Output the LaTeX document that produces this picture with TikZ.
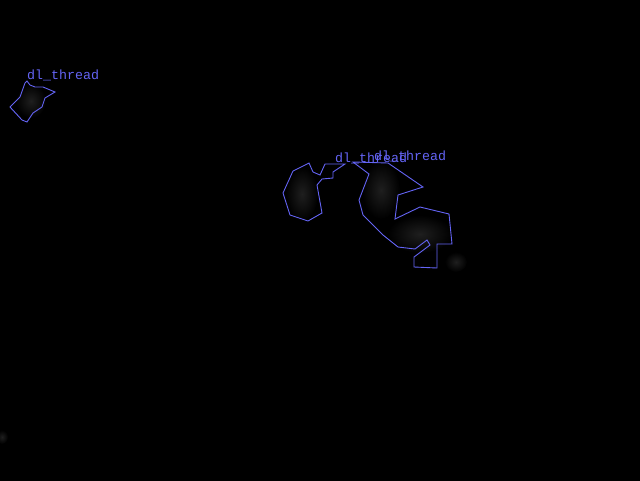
\documentclass[tikz,border=0pt]{standalone}
\usepackage{fontspec}
\usepackage{xcolor}
\usepackage{tikz}
\usetikzlibrary{backgrounds}
\newfontfamily\labelfont{Liberation Mono}
\definecolor{outline}{RGB}{100,100,245}

\begin{document}
\begin{tikzpicture}[x=1pt, y=-1pt, background rectangle/.style={fill=black}, show background rectangle]
\useasboundingbox (0,0) rectangle (640,480);

% soft grey blobs
\begin{scope}[every path/.style={inner color=gray!24!black, outer color=black}]
    \shade (31,101) ellipse (15 and 17);
    \shade (302,194) ellipse (16 and 27);
    \shade (381,190) ellipse (19 and 29);
    \shade (420,234) ellipse (32 and 19);
    \shade (456,262) ellipse (11 and 10);
    \shade (2,437) ellipse (6 and 7);
\end{scope}

% outlines
\begin{scope}[every path/.style={draw=outline, line width=0.9pt, line join=miter}]
    \draw (27,81) -- (30,85) -- (35,87) -- (43,87) -- (55,92) -- (50,95) -- (45,98)
      -- (42,107) -- (33,113) -- (27,122) -- (22,120) -- (10,107) -- (20,97) -- (25,83) -- cycle;
    \draw (309,163) -- (313,172) -- (320,175) -- (325,164) -- (345,164) -- (333,172)
      -- (333,178) -- (322,179) -- (317,185) -- (322,213) -- (308,221) -- (302,219)
      -- (290,215) -- (283,193) -- (293,171) -- cycle;
    \draw (353,162) -- (388,163) -- (423,187) -- (398,195) -- (395,219) -- (420,207)
      -- (449,214) -- (452,244) -- (437,244) -- (437,268) -- (414,267) -- (414,257)
      -- (430,245) -- (427,240) -- (415,249) -- (398,247) -- (383,235) -- (363,215)
      -- (359,200) -- (369,174) -- cycle;
\end{scope}

% labels
\begin{scope}[every node/.style={text=outline, anchor=base west, inner sep=0pt,
              font=\labelfont\fontsize{13.3pt}{13.3pt}\selectfont}]
    \node (lbla) at (27,79) {dl\_thread};
    \node (lblb) at (335,162) {dl\_thread};
    \node (lblc) at (374,160) {dl\_thread};
\end{scope}

\end{tikzpicture}
\end{document}
